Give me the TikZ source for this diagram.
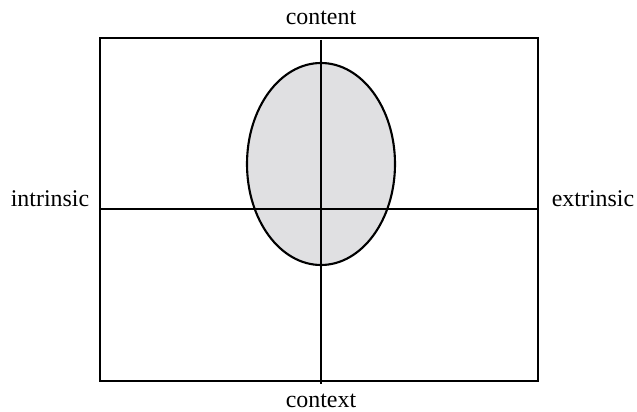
\documentclass[tikz,border=0pt]{standalone}
\usepackage{fontspec}
\setmainfont{Liberation Serif}
\usepackage{xcolor}
\usetikzlibrary{positioning}
\definecolor{blobGray}{HTML}{E0E0E2}

\tikzset{
  frameline/.style={line width=1.5pt, black},
  axislabel/.style={font=\fontsize{17}{20}\selectfont, anchor=base, inner sep=0pt}
}

\begin{document}
\begin{tikzpicture}[x=0.025cm, y=-0.025cm]
            \useasboundingbox (0,0) rectangle (637,412);

            % corners and axis ends
            \coordinate (topleft) at (100,38);
            \coordinate (botright) at (538,381);
            \coordinate (axtop) at (321,40);
            \coordinate (axbot) at (321,384);
            \coordinate (axleft) at (100,209);
            \coordinate (axright) at (538,209);

            % shaded region
            \filldraw[blobGray, draw=black, line width=1.5pt] (321,164) ellipse [x radius=74, y radius=101];

            % frame and axes
            \draw[frameline] (topleft) rectangle (botright);
            \draw[frameline] (axtop) -- (axbot);
            \draw[frameline] (axleft) -- (axright);

            % labels
            \node[axislabel] (content) at (321,25) {content};
            \node[axislabel] (context) at (321,407) {context};
            \node[axislabel] (intrinsic) at (50,207) {intrinsic};
            \node[axislabel] (extrinsic) at (593,207) {extrinsic};
\end{tikzpicture}
\end{document}
